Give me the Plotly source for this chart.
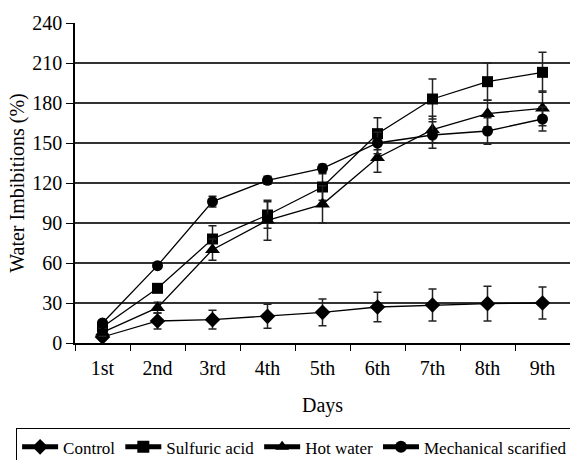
import plotly.graph_objects as go

days = ["1st", "2nd", "3rd", "4th", "5th", "6th", "7th", "8th", "9th"]
control = [4.5, 16.5, 17.5, 20, 23, 27, 28.5, 29.5, 30]
control_err = [2, 6, 7, 9, 10, 11, 12, 13, 12]
sulfuric = [12, 41, 78, 96, 117, 157, 183, 196, 203]
sulfuric_err = [3, 3, 10, 10, 10, 12, 15, 14, 15]
hotwater = [8, 26.5, 70, 92, 104, 139, 160, 172, 176]
hotwater_err = [3, 4, 8, 15, 14, 11, 10, 10, 13]
mechanical = [15, 58, 106, 122, 131, 150, 156, 159, 168]
mechanical_err = [2, 2, 4, 3, 3, 8, 10, 10, 9]
y_ticks = [0, 30, 60, 90, 120, 150, 180, 210, 240]

FONT = "Liberation Serif"

series = [
    ("Control", control, control_err, "diamond", 12),
    ("Sulfuric acid", sulfuric, sulfuric_err, "square", 11),
    ("Hot water", hotwater, hotwater_err, "triangle-up", 13),
    ("Mechanical scarified", mechanical, mechanical_err, "circle", 11),
]

fig = go.Figure()
for name, vals, errs, sym, size in series:
    fig.add_trace(go.Scatter(
        x=days, y=vals, name=name, mode="lines+markers",
        line=dict(color="black", width=1.3),
        marker=dict(symbol=sym, size=size, color="black"),
        error_y=dict(type="data", array=errs, visible=True,
                     color="#222", thickness=1.5, width=4),
    ))

fig.update_layout(
    width=570, height=460,
    margin=dict(l=75, r=0, t=23, b=117, autoexpand=False),
    plot_bgcolor="white", paper_bgcolor="white",
    font=dict(family=FONT, color="black", size=20),
    showlegend=True,
    legend=dict(
        orientation="h", x=-0.119, y=-0.2666, xanchor="left", yanchor="top",
        bordercolor="black", borderwidth=1,
        font=dict(family=FONT, size=17, color="black"),
        itemwidth=36, itemsizing="constant", tracegroupgap=0,
    ),
    xaxis=dict(
        type="category", range=[-0.5, 8.5],
        showline=True, linecolor="black", linewidth=1.5,
        ticks="outside", tickson="boundaries", ticklen=6, tickcolor="black",
        ticklabelstandoff=6,
        showgrid=False,
        title=dict(text="Days", font=dict(size=20), standoff=20),
        tickfont=dict(size=20),
    ),
    yaxis=dict(
        range=[0, 240], tickvals=y_ticks,
        showline=True, linecolor="black", linewidth=1.5,
        ticks="outside", ticklen=7, tickcolor="black",
        showgrid=True, gridcolor="#333", gridwidth=1.5,
        zeroline=False,
        title=dict(text="Water Imbibitions (%)", font=dict(size=20), standoff=2),
        tickfont=dict(size=20),
    ),
)

fig.write_html("out.html", config={"displayModeBar": False},
               post_script="document.body.style.margin='0';")
